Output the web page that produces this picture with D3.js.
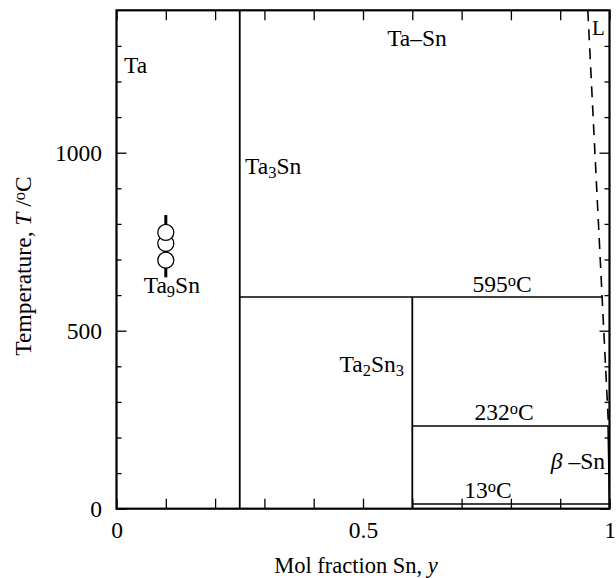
<!DOCTYPE html>
<html>
<head>
<meta charset="utf-8">
<script src="https://cdn.jsdelivr.net/npm/d3@7"></script>
<style>
  html, body { margin: 0; padding: 0; background: #fff; }
  text { font-family: "Liberation Serif", "DejaVu Serif", serif; fill: #000; }
</style>
</head>
<body>
<svg id="chart" width="616" height="578"></svg>
<script>
// ---- data ----
const xMajorTicks = [0, 0.5, 1];
const xTickLabels = ["0", "0.5", "1"];
const xMinorTicks = [0.1, 0.2, 0.3, 0.4, 0.6, 0.7, 0.8, 0.9];
const yMajorTicks = [0, 500, 1000];
const yTickLabels = ["0", "500", "1000"];
const yMinorTicks = [100, 200, 300, 400, 600, 700, 800, 900, 1100, 1200, 1300];

// phase boundaries: [x1, T1, x2, T2]
const solidLines = [
  [0.25, 0, 0.25, 1400],     // Ta3Sn
  [0.6, 0, 0.6, 595],        // Ta2Sn3
  [0.25, 595, 0.985, 595],   // 595 °C peritectic
  [0.6, 232, 0.998, 232],    // 232 °C eutectic
  [0.6, 13, 1.0, 13],        // 13 °C
  [0.997, 232, 1.0, 0]       // beta-Sn solubility
];
const liquidus = [[0.956, 1400], [0.985, 595], [0.998, 232]];

const ta9snX = 0.1;
const ta9snRange = [650, 825];
const ta9snPoints = [698, 745, 776];

// ---- layout ----
const svg = d3.select("#chart");
const x = d3.scaleLinear().domain([0, 1]).range([116.5, 609.5]);
const y = d3.scaleLinear().domain([0, 1400]).range([508.7, 10.3]);
const FS = 23.5;

function style(g) {
  g.select(".domain").remove();
  g.selectAll("line").attr("stroke", "#000").attr("stroke-width", 1.3);
  g.selectAll("text").attr("font-size", FS).attr("font-family", "Liberation Serif").attr("fill", "#000");
}

// bottom axis
svg.append("g").attr("transform", `translate(0,${y(0)})`)
  .call(d3.axisBottom(x).tickValues(xMajorTicks).tickFormat((d, i) => xTickLabels[i]).tickSize(-10).tickPadding(13))
  .call(style);
svg.append("g").attr("transform", `translate(0,${y(0)})`)
  .call(d3.axisBottom(x).tickValues(xMinorTicks).tickFormat("").tickSize(-10))
  .call(style);
// top axis
svg.append("g").attr("transform", `translate(0,${y(1400)})`)
  .call(d3.axisTop(x).tickValues(xMajorTicks.concat(xMinorTicks)).tickFormat("").tickSize(-10))
  .call(style);
// left axis
svg.append("g").attr("transform", `translate(${x(0)},0)`)
  .call(d3.axisLeft(y).tickValues(yMajorTicks).tickFormat((d, i) => yTickLabels[i]).tickSize(-10).tickPadding(14.5))
  .call(style);
svg.append("g").attr("transform", `translate(${x(0)},0)`)
  .call(d3.axisLeft(y).tickValues(yMinorTicks).tickFormat("").tickSize(-5))
  .call(style);
// right axis
svg.append("g").attr("transform", `translate(${x(1)},0)`)
  .call(d3.axisRight(y).tickValues(yMajorTicks).tickFormat("").tickSize(-10))
  .call(style);
svg.append("g").attr("transform", `translate(${x(1)},0)`)
  .call(d3.axisRight(y).tickValues(yMinorTicks).tickFormat("").tickSize(-5))
  .call(style);

// frame
svg.append("rect")
  .attr("x", x(0)).attr("y", y(1400))
  .attr("width", x(1) - x(0)).attr("height", y(0) - y(1400))
  .attr("fill", "none").attr("stroke", "#000").attr("stroke-width", 2.2);

// phase lines
svg.append("g").selectAll("line").data(solidLines).join("line")
  .attr("x1", d => x(d[0])).attr("y1", d => y(d[1]))
  .attr("x2", d => x(d[2])).attr("y2", d => y(d[3]))
  .attr("stroke", "#000").attr("stroke-width", (d, i) => i < 2 ? 1.8 : 1.5);

svg.append("path")
  .attr("d", d3.line().x(d => x(d[0])).y(d => y(d[1]))(liquidus))
  .attr("fill", "none").attr("stroke", "#000").attr("stroke-width", 1.6)
  .attr("stroke-dasharray", "11,8");

// Ta9Sn marker
svg.append("line")
  .attr("x1", x(ta9snX)).attr("x2", x(ta9snX))
  .attr("y1", y(ta9snRange[0])).attr("y2", y(ta9snRange[1]))
  .attr("stroke", "#000").attr("stroke-width", 3);
svg.append("g").selectAll("circle").data(ta9snPoints).join("circle")
  .attr("cx", x(ta9snX)).attr("cy", d => y(d)).attr("r", 8)
  .attr("fill", "#fff").attr("stroke", "#000").attr("stroke-width", 1.3);

// ---- labels ----
function label(px, py, parts, anchor, fs) {
  const size = fs || FS;
  const t = svg.append("text").attr("x", px).attr("y", py)
    .attr("font-size", size).attr("text-anchor", anchor || "start");
  parts.forEach(p => {
    const s = t.append("tspan").text(p.t);
    if (p.sub) s.attr("font-size", size * 0.7).attr("baseline-shift", "-22%");
    if (p.sup) s.attr("font-size", size * 0.7).attr("baseline-shift", "40%");
    if (p.it) s.attr("font-style", "italic");
  });
  return t;
}
label(124, 73, [{t: "Ta"}]);
label(417, 46, [{t: "Ta\u2013Sn"}], "middle");
label(592, 35, [{t: "L"}], "start", 21);
label(245, 174, [{t: "Ta"}, {t: "3", sub: true}, {t: "Sn"}]);
label(x(ta9snX) + 6, 293, [{t: "Ta"}, {t: "9", sub: true}, {t: "Sn"}], "middle");
label(502, 292, [{t: "595"}, {t: "o", sup: true}, {t: "C"}], "middle");
label(404, 372, [{t: "Ta"}, {t: "2", sub: true}, {t: "Sn"}, {t: "3", sub: true}], "end");
label(504, 420, [{t: "232"}, {t: "o", sup: true}, {t: "C"}], "middle");
label(605, 469, [{t: "\u03B2", it: true}, {t: " \u2013Sn"}], "end");
label(488, 498, [{t: "13"}, {t: "o", sup: true}, {t: "C"}], "middle");

// axis titles
label(356, 573, [{t: "Mol fraction Sn, "}, {t: "y", it: true}], "middle", 22.5);
label(0, 0, [{t: "Temperature, "}, {t: "T", it: true}, {t: " /"}, {t: "o", sup: true}, {t: "C"}], "middle")
  .attr("transform", "translate(31,266) rotate(-90)");
</script>
</body>
</html>
